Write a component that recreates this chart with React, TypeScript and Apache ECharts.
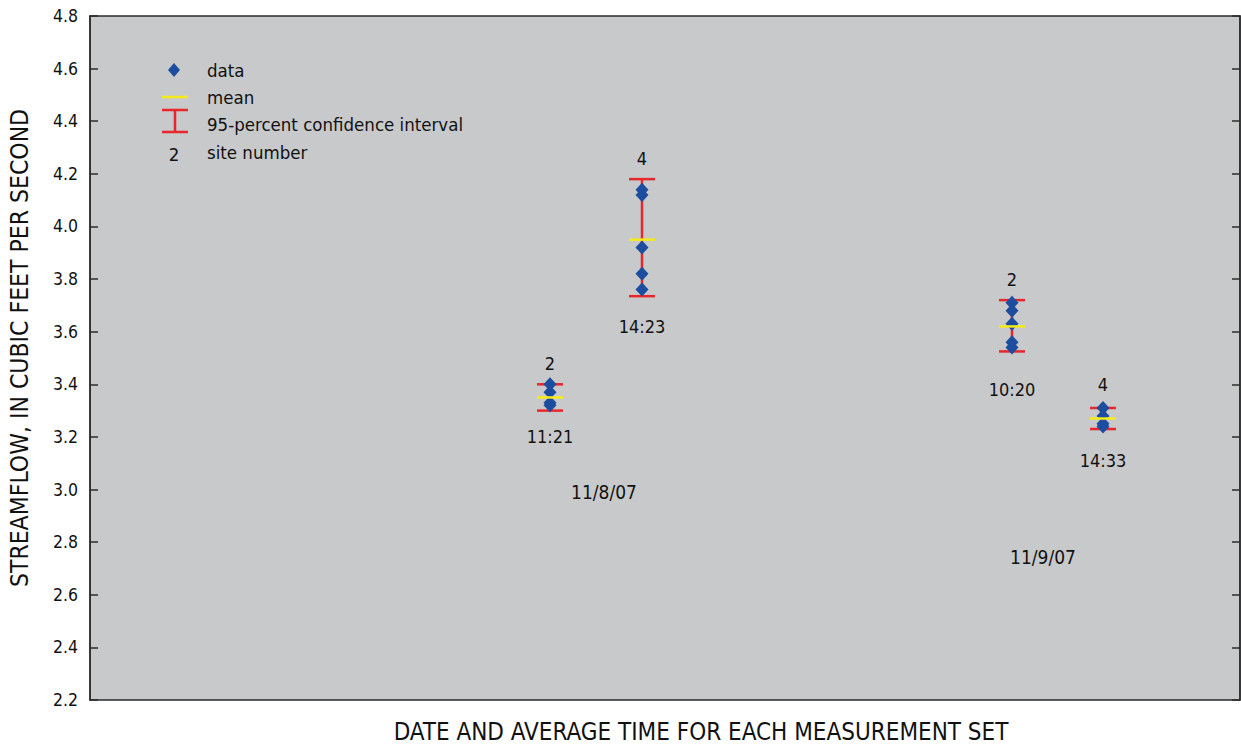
import React, { useEffect, useRef } from "react";
import * as echarts from "echarts";

// Measurement sets (position along the hidden x axis, in axis units)
const setX = [460, 552, 922, 1013];
const siteNumbers = ["2", "4", "2", "4"];
const timeLabels = ["11:21", "14:23", "10:20", "14:33"];
const measurements = [
  [3.40, 3.37, 3.33, 3.32],
  [4.14, 4.12, 3.92, 3.82, 3.76],
  [3.71, 3.68, 3.63, 3.56, 3.54],
  [3.31, 3.28, 3.25, 3.24],
];
const means = [3.35, 3.95, 3.62, 3.27];
const ciLow = [3.30, 3.735, 3.525, 3.23];
const ciHigh = [3.40, 4.18, 3.72, 3.31];
const siteLabelY = [3.48, 4.26, 3.80, 3.40];
const timeLabelY = [3.20, 3.62, 3.38, 3.11];
const dateLabels = ["11/8/07", "11/9/07"];
const dateLabelX = [514, 953];
const dateLabelY = [2.99, 2.745];
const yTicks = { min: 2.2, max: 4.8, interval: 0.2 };

const FONT = "'Liberation Sans Narrow', 'DejaVu Sans Condensed', 'Roboto', sans-serif";
const BLUE = "#1d4d9e";
const RED = "#e8262b";
const YELLOW = "#f4ec1a";
const INK = "#111111";

export default function App() {
  const ref = useRef<HTMLDivElement>(null);
  useEffect(() => {
    const chart = echarts.init(ref.current!, null, { renderer: "svg" });
    const points: number[][] = [];
    measurements.forEach((arr, i) => arr.forEach((v) => points.push([setX[i], v])));

    const labelSeries = (xs: number[], ys: number[], texts: string[], size: number) => ({
      type: "scatter",
      z: 4,
      symbolSize: 0,
      silent: true,
      itemStyle: { opacity: 1 },
      data: xs.map((x, i) => ({ value: [x, ys[i]], label: { formatter: texts[i] } })),
      label: { show: true, position: "inside", fontSize: size, color: INK, fontFamily: FONT },
    });

    const option: any = {
      animation: false,
      backgroundColor: "#ffffff",
      grid: {
        left: 90,
        right: 1,
        top: 16,
        bottom: 46,
        show: true,
        backgroundColor: "#c8c9cb",
        borderColor: "#2b2b2b",
        borderWidth: 1.5,
      },
      xAxis: { type: "value", min: 0, max: 1150, show: false },
      yAxis: [
        {
          type: "value",
          min: yTicks.min,
          max: yTicks.max,
          interval: yTicks.interval,
          position: "left",
          splitLine: { show: false },
          axisLine: { show: true, lineStyle: { color: "#2b2b2b", width: 1.5 } },
          axisTick: { show: true, inside: true, length: 8, lineStyle: { color: "#2b2b2b", width: 1.5 } },
          axisLabel: {
            formatter: (v: number) => v.toFixed(1),
            fontSize: 17.5,
            color: INK,
            fontFamily: FONT,
            margin: 12,
          },
        },
        {
          type: "value",
          min: yTicks.min,
          max: yTicks.max,
          interval: yTicks.interval,
          position: "right",
          splitLine: { show: false },
          axisLine: { show: true, lineStyle: { color: "#2b2b2b", width: 1.5 } },
          axisTick: { show: true, inside: true, length: 8, lineStyle: { color: "#2b2b2b", width: 1.5 } },
          axisLabel: { show: false },
        },
      ],
      series: [
        {
          type: "custom",
          z: 1,
          data: setX.map((x, i) => [x, ciLow[i], ciHigh[i]]),
          renderItem: (params: any, api: any) => {
            const lo = api.coord([api.value(0), api.value(1)]);
            const hi = api.coord([api.value(0), api.value(2)]);
            const w = 13;
            const style = { stroke: RED, lineWidth: 2.5 };
            return {
              type: "group",
              children: [
                { type: "line", shape: { x1: lo[0], y1: lo[1], x2: hi[0], y2: hi[1] }, style },
                { type: "line", shape: { x1: lo[0] - w, y1: lo[1], x2: lo[0] + w, y2: lo[1] }, style },
                { type: "line", shape: { x1: hi[0] - w, y1: hi[1], x2: hi[0] + w, y2: hi[1] }, style },
              ],
            };
          },
        },
        {
          type: "scatter",
          z: 2,
          symbol: "diamond",
          symbolSize: [13, 14],
          itemStyle: { color: BLUE, opacity: 1 },
          data: points,
        },
        {
          type: "custom",
          z: 3,
          data: setX.map((x, i) => [x, means[i]]),
          renderItem: (params: any, api: any) => {
            const p = api.coord([api.value(0), api.value(1)]);
            return {
              type: "line",
              shape: { x1: p[0] - 13, y1: p[1], x2: p[0] + 13, y2: p[1] },
              style: { stroke: YELLOW, lineWidth: 2.5 },
            };
          },
        },
        labelSeries(setX, siteLabelY, siteNumbers, 18),
        labelSeries(setX, timeLabelY, timeLabels, 18),
        labelSeries(dateLabelX, dateLabelY, dateLabels, 19),
      ],
      graphic: [
        // legend
        { type: "polygon", shape: { points: [[174, 63], [180, 70], [174, 77], [168, 70]] }, style: { fill: BLUE } },
        { type: "text", x: 207, y: 70, style: { text: "data", fontSize: 18.5, fill: INK, fontFamily: FONT, verticalAlign: "middle" } },
        { type: "line", shape: { x1: 162, y1: 97, x2: 188, y2: 97 }, style: { stroke: YELLOW, lineWidth: 2.5 } },
        { type: "text", x: 207, y: 97, style: { text: "mean", fontSize: 18.5, fill: INK, fontFamily: FONT, verticalAlign: "middle" } },
        { type: "line", shape: { x1: 162, y1: 110, x2: 188, y2: 110 }, style: { stroke: RED, lineWidth: 2.5 } },
        { type: "line", shape: { x1: 175, y1: 110, x2: 175, y2: 132 }, style: { stroke: RED, lineWidth: 2.5 } },
        { type: "line", shape: { x1: 162, y1: 132, x2: 188, y2: 132 }, style: { stroke: RED, lineWidth: 2.5 } },
        { type: "text", x: 207, y: 124, style: { text: "95-percent confidence interval", fontSize: 18.5, fill: INK, fontFamily: FONT, verticalAlign: "middle" } },
        { type: "text", x: 174, y: 154, style: { text: "2", fontSize: 18.5, fill: INK, fontFamily: FONT, align: "center", verticalAlign: "middle" } },
        { type: "text", x: 207, y: 152, style: { text: "site number", fontSize: 18.5, fill: INK, fontFamily: FONT, verticalAlign: "middle" } },
        // axis titles
        {
          type: "text",
          x: 701,
          y: 732,
          style: { text: "DATE AND AVERAGE TIME FOR EACH MEASUREMENT SET", fontSize: 24, fill: INK, fontFamily: FONT, align: "center", verticalAlign: "middle" },
        },
        {
          type: "text",
          x: 19,
          y: 348,
          rotation: Math.PI / 2,
          style: { text: "STREAMFLOW, IN CUBIC FEET PER SECOND", fontSize: 24.5, fill: INK, fontFamily: FONT, align: "center", verticalAlign: "middle" },
        },
      ],
    };
    chart.setOption(option);
    return () => chart.dispose();
  }, []);
  return <div ref={ref} style={{ position: "fixed", left: 0, top: 0, width: 1241, height: 746 }} />;
}
